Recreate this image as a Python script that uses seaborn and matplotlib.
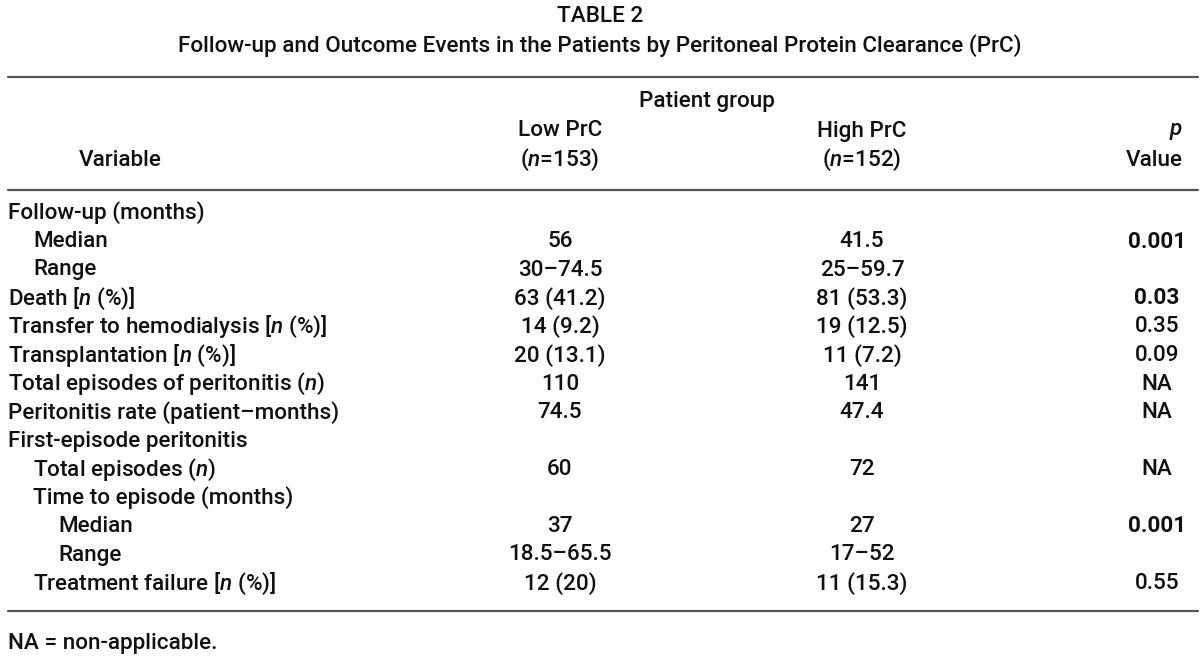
import matplotlib.pyplot as plt
import seaborn as sns

# Table data
title = "TABLE 2"
subtitle = "Follow-up and Outcome Events in the Patients by Peritoneal Protein Clearance (PrC)"

variables = [
    "Follow-up (months)", "Median", "Range", "Death [$n$ (%)]",
    "Transfer to hemodialysis [$n$ (%)]", "Transplantation [$n$ (%)]",
    "Total episodes of peritonitis ($n$)", "Peritonitis rate (patient\u2013months)",
    "First-episode peritonitis", "Total episodes ($n$)", "Time to episode (months)",
    "Median", "Range", "Treatment failure [$n$ (%)]",
]
levels = [0, 1, 1, 0, 0, 0, 0, 0, 0, 1, 1, 2, 2, 1]
low_prc = ["", "56", "30\u201374.5", "63 (41.2)", "14 (9.2)", "20 (13.1)", "110", "74.5",
           "", "60", "", "37", "18.5\u201365.5", "12 (20)"]
high_prc = ["", "41.5", "25\u201359.7", "81 (53.3)", "19 (12.5)", "11 (7.2)", "141", "47.4",
            "", "72", "", "27", "17\u201352", "11 (15.3)"]
p_values = ["", "0.001", "", "0.03", "0.35", "0.09", "NA", "NA",
            "", "NA", "", "0.001", "", "0.55"]
footnote = "NA = non-applicable."

sns.set_theme(style="white")
plt.rcParams['font.family'] = ['Roboto', 'DejaVu Sans']
plt.rcParams['font.weight'] = 'medium'
plt.rcParams['mathtext.fontset'] = 'custom'
plt.rcParams['mathtext.it'] = 'Roboto:italic:medium'
plt.rcParams['mathtext.rm'] = 'Roboto:medium'

fs = 16.2
ink = "#111111"

fig = plt.figure(figsize=(12, 6.59), dpi=100)
ax = fig.add_axes([0, 0, 1, 1])
ax.set_xlim(0, 1200)
ax.set_ylim(659, 0)
ax.axis("off")

x_var, x_low, x_high, x_p = 8, 560, 862, 1157
indent = 25

ax.text(600, 16, title, ha="center", va="center", fontsize=fs, color=ink)
ax.text(600, 46, subtitle, ha="center", va="center", fontsize=fs, color=ink)

ax.plot([8, 1198], [77, 77], color="#555555", lw=1.6)
ax.text(707, 101, "Patient group", ha="center", va="center", fontsize=fs, color=ink)
ax.text(x_low, 131, "Low PrC", ha="center", va="center", fontsize=fs, color=ink)
ax.text(x_low, 160, "($n$=153)", ha="center", va="center", fontsize=fs, color=ink)
ax.text(x_high, 131, "High PrC", ha="center", va="center", fontsize=fs, color=ink)
ax.text(x_high, 160, "($n$=152)", ha="center", va="center", fontsize=fs, color=ink)
ax.text(1183, 131, "$p$", ha="right", va="center", fontsize=fs, color=ink)
ax.text(1183, 160, "Value", ha="right", va="center", fontsize=fs, color=ink)
ax.text(120, 160, "Variable", ha="center", va="center", fontsize=fs, color=ink)
ax.plot([8, 1198], [190, 190], color="#555555", lw=1.6)

y0, dy = 213, 28.5
for i, (var, lv, lo, hi, p) in enumerate(zip(variables, levels, low_prc, high_prc, p_values)):
    y = y0 + i * dy
    ax.text(x_var + lv * indent, y, var, ha="left", va="center", fontsize=fs, color=ink)
    ax.text(x_low, y, lo, ha="center", va="center", fontsize=fs, color=ink)
    ax.text(x_high, y, hi, ha="center", va="center", fontsize=fs, color=ink)
    bold = p not in ("", "NA") and float(p) < 0.05
    ax.text(x_p, y, p, ha="center", va="center", fontsize=fs, color=ink,
            fontweight="bold" if bold else "medium")

ax.plot([8, 1198], [611, 611], color="#555555", lw=1.6)
ax.text(x_var, 643, footnote, ha="left", va="center", fontsize=fs, color=ink)

fig.savefig("out.png", dpi=100, facecolor="white")
